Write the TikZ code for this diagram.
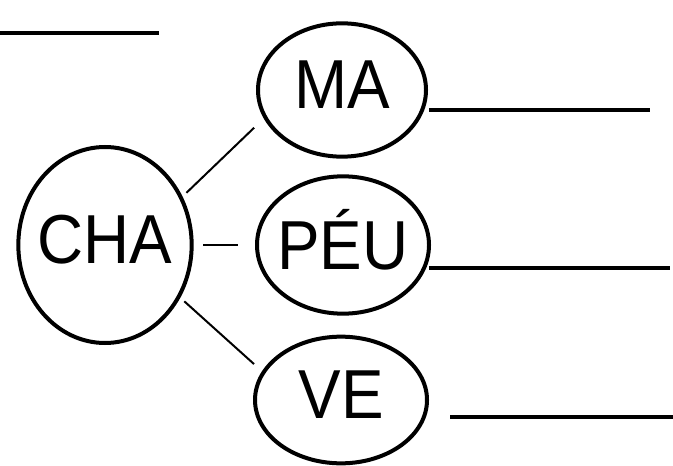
\documentclass[tikz,border=0pt]{standalone}
\usepackage{fontspec}
\setmainfont{Liberation Sans}
\usetikzlibrary{shapes.geometric}
\newcommand{\wtxt}[1]{\raisebox{4pt}[\height][0pt]{\scalebox{0.92}[1]{#1}}}
\tikzset{
  wordell/.style={ellipse, draw=black, line width=3pt, inner sep=-18pt,
                  font=\fontsize{52}{62}\selectfont},
  wlink/.style={draw=black, line width=1.5pt},
  wblank/.style={draw=black, line width=2.4pt},
}
\begin{document}
\begin{tikzpicture}[x=0.75pt,y=-0.75pt]
\useasboundingbox (0,0) rectangle (673,466);
\node[wordell,minimum width=130pt,minimum height=147pt] (cha) at (105,245) {\wtxt{CHA}};
\node[wordell,minimum width=126pt,minimum height=100pt] (ma) at (342,90) {\wtxt{MA}};
\node[wordell,minimum width=129pt,minimum height=103pt] (peu) at (343,245) {\wtxt{PÉU}};
\node[wordell,minimum width=129pt,minimum height=95pt] (ve) at (341,400) {\wtxt{VE}};
\draw[wlink,shorten <=4pt,shorten >=10pt] (cha.32)--(ma.200);
\draw[wlink,shorten <=7pt,shorten >=13pt] (cha.east)--(peu.west);
\draw[wlink,shorten <=4pt,shorten >=8pt] (cha.-35)--(ve.160);
% answer lines
\draw[wblank] (0,33)--(159,33);
\draw[wblank] (429,110)--(650,110);
\draw[wblank] (429,268)--(670,268);
\draw[wblank] (450,417)--(673,417);
\end{tikzpicture}
\end{document}
